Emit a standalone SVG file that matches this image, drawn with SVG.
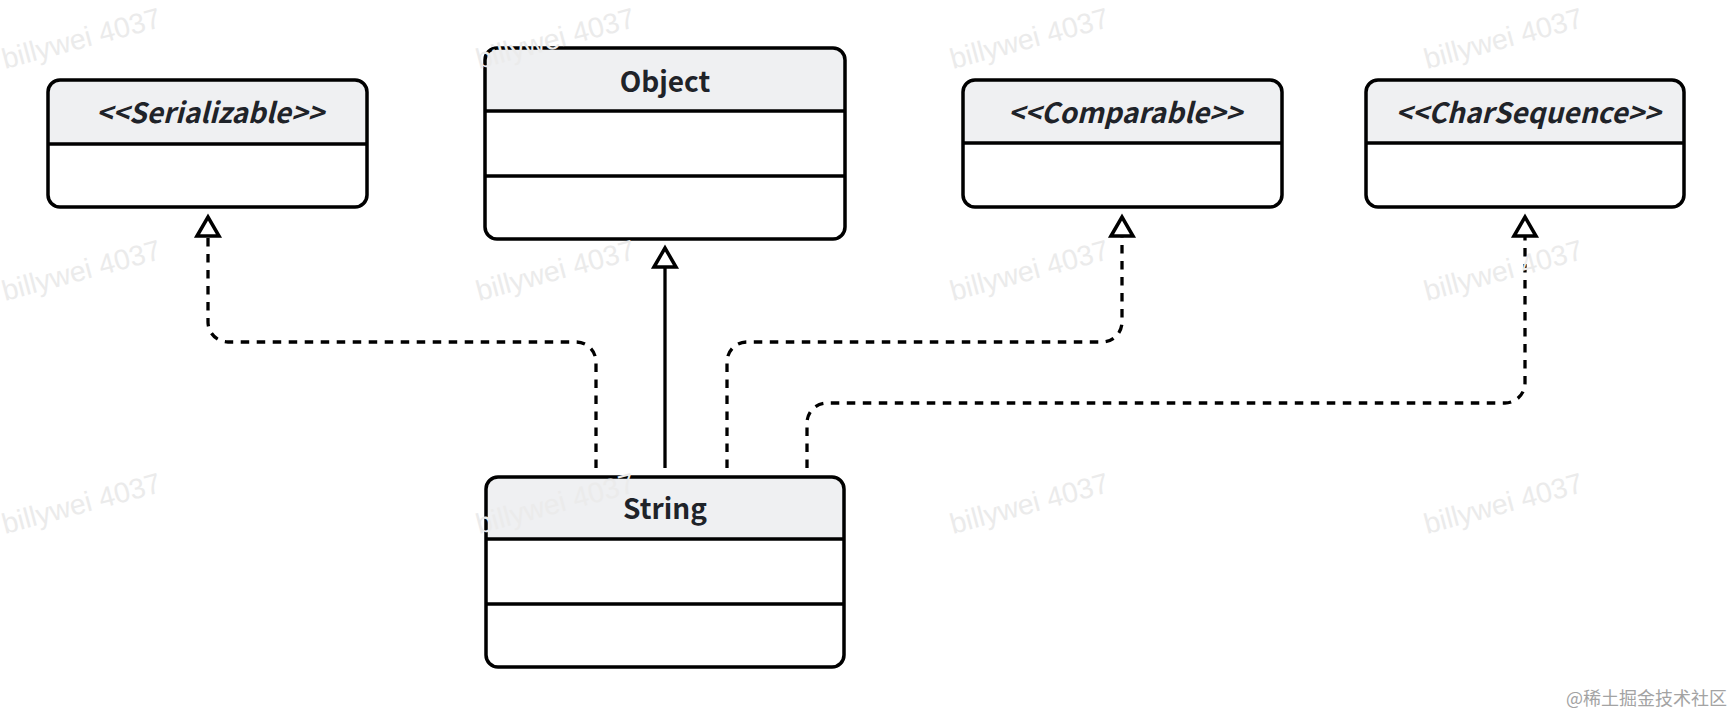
<svg xmlns="http://www.w3.org/2000/svg" width="1734" height="716" viewBox="0 0 1734 716">
<style>
.box{fill:none;stroke:#000;stroke-width:3.5}
.body{fill:#fff}
.head{fill:#eff0f2}
.div{stroke:#000;stroke-width:3.5}
.t{font-family:"Noto Sans CJK SC","Noto Sans",sans-serif;font-weight:bold;font-size:28px;fill:#1f2329;text-anchor:middle}
.st{font-style:italic}
.dash{fill:none;stroke:#000;stroke-width:3.3;stroke-dasharray:8.5 7.5}
.solid{fill:none;stroke:#000;stroke-width:3.3}
.wm{font-family:"Liberation Sans",Arial,sans-serif;font-size:28.5px;fill:#ebebeb}
.foot{font-family:"Noto Sans CJK SC",sans-serif;font-size:18px;fill:#a3a3a3}
</style>
<defs>
<marker id="tri" markerUnits="userSpaceOnUse" viewBox="-4 -16 28 32" markerWidth="28" markerHeight="32" refX="0" refY="0" orient="auto">
<path d="M0,-11 L19,0 L0,11 Z" fill="#fff" stroke="#000" stroke-width="3.5" stroke-dasharray="none" stroke-linejoin="miter"/>
</marker>
</defs>
<rect width="1734" height="716" fill="#fff"/>

<g id="serializable">
<rect class="body" x="48" y="80" width="319" height="127" rx="12"/>
<path class="head" d="M48,144 V92 A12,12 0 0 1 60,80 H355 A12,12 0 0 1 367,92 V144 Z"/>
<rect class="box" x="48" y="80" width="319" height="127" rx="12"/>
<line class="div" x1="48" y1="144" x2="367" y2="144"/>
<text class="t st" x="210" y="123">&lt;&lt;Serializable&gt;&gt;</text>
</g>

<g id="object">
<rect class="body" x="485" y="48" width="360" height="191" rx="12"/>
<path class="head" d="M485,111 V60 A12,12 0 0 1 497,48 H833 A12,12 0 0 1 845,60 V111 Z"/>
<rect class="box" x="485" y="48" width="360" height="191" rx="12"/>
<line class="div" x1="485" y1="111" x2="845" y2="111"/>
<line class="div" x1="485" y1="176" x2="845" y2="176"/>
<text class="t" x="665" y="92">Object</text>
</g>

<g id="comparable">
<rect class="body" x="963" y="80" width="319" height="127" rx="12"/>
<path class="head" d="M963,143 V92 A12,12 0 0 1 975,80 H1270 A12,12 0 0 1 1282,92 V143 Z"/>
<rect class="box" x="963" y="80" width="319" height="127" rx="12"/>
<line class="div" x1="963" y1="143" x2="1282" y2="143"/>
<text class="t st" x="1125" y="123">&lt;&lt;Comparable&gt;&gt;</text>
</g>

<g id="charsequence">
<rect class="body" x="1366" y="80" width="318" height="127" rx="12"/>
<path class="head" d="M1366,143 V92 A12,12 0 0 1 1378,80 H1672 A12,12 0 0 1 1684,92 V143 Z"/>
<rect class="box" x="1366" y="80" width="318" height="127" rx="12"/>
<line class="div" x1="1366" y1="143" x2="1684" y2="143"/>
<text class="t st" x="1528" y="123">&lt;&lt;CharSequence&gt;&gt;</text>
</g>

<g id="string">
<rect class="body" x="486" y="477" width="358" height="190" rx="12"/>
<path class="head" d="M486,539 V489 A12,12 0 0 1 498,477 H832 A12,12 0 0 1 844,489 V539 Z"/>
<rect class="box" x="486" y="477" width="358" height="190" rx="12"/>
<line class="div" x1="486" y1="539" x2="844" y2="539"/>
<line class="div" x1="486" y1="604" x2="844" y2="604"/>
<text class="t" x="665" y="519">String</text>
</g>

<g id="connectors">
<path class="solid" d="M665,468 V267" marker-end="url(#tri)"/>
<path class="dash" d="M596,468 V362 A20,20 0 0 0 576,342 H228 A20,20 0 0 1 208,322 V236" marker-end="url(#tri)"/>
<path class="dash" d="M727,468 V362 A20,20 0 0 1 747,342 H1102 A20,20 0 0 0 1122,322 V236" marker-end="url(#tri)"/>
<path class="dash" d="M807,468 V423 A20,20 0 0 1 827,403 H1505 A20,20 0 0 0 1525,383 V236" marker-end="url(#tri)"/>
</g>

<g id="watermarks">
<text class="wm" transform="translate(5,69) rotate(-15)">billywei 4037</text>
<text class="wm" transform="translate(479,69) rotate(-15)">billywei 4037</text>
<text class="wm" transform="translate(953,69) rotate(-15)">billywei 4037</text>
<text class="wm" transform="translate(1427,69) rotate(-15)">billywei 4037</text>
<text class="wm" transform="translate(5,301) rotate(-15)">billywei 4037</text>
<text class="wm" transform="translate(479,301) rotate(-15)">billywei 4037</text>
<text class="wm" transform="translate(953,301) rotate(-15)">billywei 4037</text>
<text class="wm" transform="translate(1427,301) rotate(-15)">billywei 4037</text>
<text class="wm" transform="translate(5,534) rotate(-15)">billywei 4037</text>
<text class="wm" transform="translate(479,534) rotate(-15)">billywei 4037</text>
<text class="wm" transform="translate(953,534) rotate(-15)">billywei 4037</text>
<text class="wm" transform="translate(1427,534) rotate(-15)">billywei 4037</text>
</g>
<text class="foot" x="1727" y="705" text-anchor="end">@稀土掘金技术社区</text>
</svg>
